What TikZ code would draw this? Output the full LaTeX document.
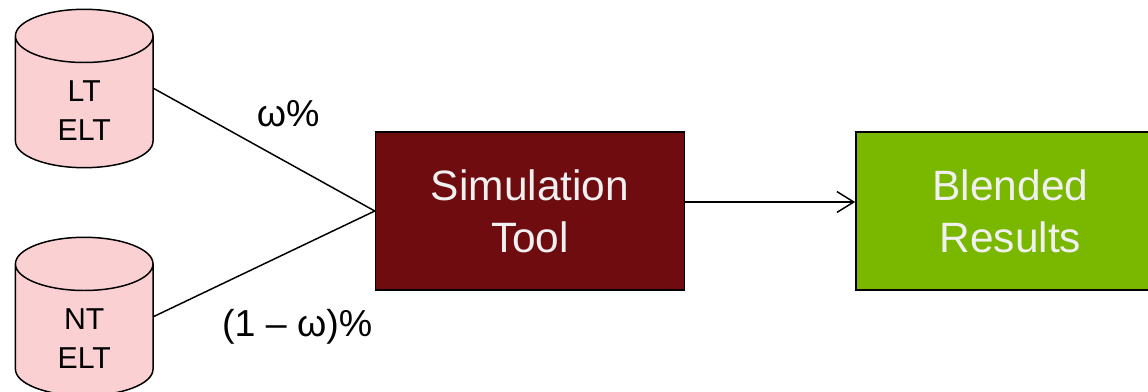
\documentclass[tikz,border=0pt]{standalone}
\usepackage{fontspec}
\setmainfont{Liberation Sans}
\usetikzlibrary{shapes.geometric,arrows.meta}
\definecolor{dbpink}{HTML}{FAD0D2}
\definecolor{simred}{HTML}{6F0C10}
\definecolor{blendgreen}{HTML}{7AB800}
\definecolor{boxtext}{HTML}{F0F0F0}
\newcommand{\dblabel}[1]{\rule{0pt}{0.93cm}#1\\ELT}
\tikzset{
  db/.style={draw=black,fill=dbpink,line width=1.05pt,shape=cylinder,shape border rotate=90,aspect=1.0,
    minimum width=3.44cm,minimum height=3.96cm,inner sep=0pt,anchor=shape center,
    align=center,font=\fontsize{21.5}{28}\selectfont},
  toolbox/.style={rectangle,draw=black,line width=1.05pt,text=boxtext,align=center,
    minimum width=7.725cm,minimum height=3.94cm,font=\fontsize{30.2}{37}\selectfont},
  link/.style={line width=1.05pt},
  share/.style={font=\fontsize{26.7}{32}\selectfont}
}
\begin{document}
\begin{tikzpicture}[node distance={12.01cm}]
    \useasboundingbox (0,0) rectangle (28.7,9.775);
    \node[db] (lt) at (2.106,7.5625) {\dblabel{LT}};
    \node[db] (nt) at ([yshift=-5.7cm]lt.shape center) {\dblabel{NT}};
    \node[toolbox,fill=simred] (sim) at (13.25,4.5) {Simulation\\Tool};
    \node[toolbox,fill=blendgreen] (blend) [right of=sim] {Blended\\Results};
    \draw[link] (lt.shape center -| lt.east) -- (sim.west)
      node[share,pos=0.608,yshift=1.24cm] (w) {ω\%};
    \draw[link] (nt.shape center -| nt.east) -- (sim.west)
      node[share,pos=0.649,yshift=-1.97cm] (wrest) {(1 – ω)\%};
    \draw[link,-{Straight Barb[length=4.2mm,width=5.2mm]}] ([yshift=0.225cm]sim.east) -- ([yshift=0.225cm]blend.west);
\end{tikzpicture}
\end{document}
